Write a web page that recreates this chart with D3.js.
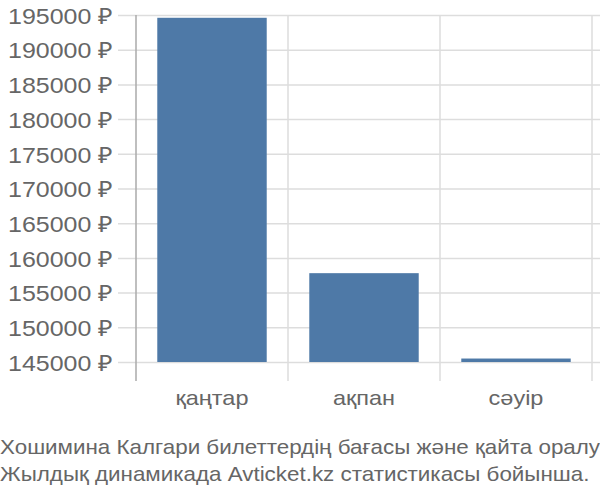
<!DOCTYPE html>
<html><head><meta charset="utf-8">
<script src="https://cdn.jsdelivr.net/npm/d3@7"></script>
<style>body{margin:0;background:#fff}svg{display:block}text{font-family:"Liberation Sans",Arial,sans-serif}</style>
</head><body><svg id="c" width="600" height="500"></svg>
<script>
const categories = ["қаңтар", "ақпан", "сәуір"];
const prices = [194600, 157800, 145500];
const yTicks = [145000, 150000, 155000, 160000, 165000, 170000, 175000, 180000, 185000, 190000, 195000];
const titleLines = ["Хошимина Калгари билеттердің бағасы және қайта оралу", "Жылдық динамикада Avticket.kz статистикасы бойынша."];

const svg = d3.select("#c");
const SX = 1.12;
const pLeft = 136, pRight = 592, pTop = 15, pBottom = 381;
const y = d3.scaleLinear().domain([145000, 195000]).range([362, 15]);
const x = d3.scaleBand().domain(categories).range([pLeft, pRight]).paddingInner(0.28).paddingOuter(0.14);

// horizontal grid
const yAxis = d3.axisLeft(y).tickValues(yTicks).tickSize(-(600 - 118)).tickFormat(d => d + " ₽").tickPadding(4);
const gy = svg.append("g").attr("transform", `translate(118,0)`).call(yAxis);
gy.select(".domain").remove();
gy.selectAll(".tick line").attr("stroke", "#dddddd").attr("stroke-width", 1.5);
gy.selectAll(".tick text").attr("fill", "#666").attr("font-size", 22.3)
  .attr("x", -5 / SX).attr("dy", "0.37em").attr("transform", `scale(${SX},1)`);

// vertical grid lines at band edges
const edges = categories.map(c => x(c) - x.step() * 0.14).concat([pRight]);
svg.append("g").selectAll("line").data(edges.slice(1)).join("line")
  .attr("x1", d => d).attr("x2", d => d).attr("y1", pTop).attr("y2", pBottom)
  .attr("stroke", "#dddddd").attr("stroke-width", 1.5);

// bars
svg.append("g").selectAll("rect").data(prices).join("rect")
  .attr("x", (d, i) => x(categories[i])).attr("width", x.bandwidth())
  .attr("y", d => y(d)).attr("height", d => y(145000) - y(d))
  .attr("fill", "#4e79a7");

// y axis line
svg.append("line").attr("x1", pLeft).attr("x2", pLeft).attr("y1", pTop).attr("y2", pBottom)
  .attr("stroke", "#aaaaaa").attr("stroke-width", 1.5);

// x labels
const xAxis = d3.axisBottom(x).tickSize(0).tickPadding(0);
const gx = svg.append("g").attr("transform", `translate(0,${pBottom})`).call(xAxis);
gx.select(".domain").remove();
gx.selectAll(".tick text").attr("fill", "#666").attr("font-size", 21).attr("dy", "0").attr("y", 24)
  .attr("transform", `scale(${SX},1)`);

// title
svg.append("g").selectAll("text").data(titleLines).join("text")
  .attr("x", 0).attr("y", (d, i) => 454 + i * 27)
  .attr("transform", `scale(${SX},1)`)
  .attr("fill", "#666").attr("font-size", 20).text(d => d);
</script></body></html>
